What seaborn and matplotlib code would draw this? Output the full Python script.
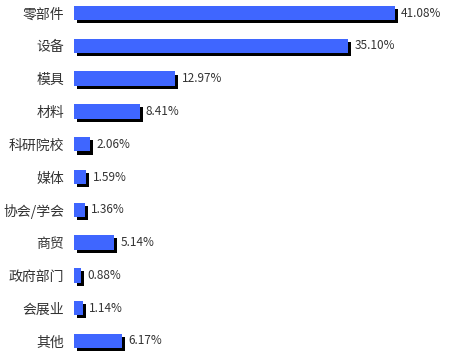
import matplotlib
matplotlib.use("Agg")
import matplotlib.pyplot as plt
import matplotlib.patheffects as pe
import seaborn as sns
import pandas as pd

categories = ["零部件", "设备", "模具", "材料", "科研院校", "媒体", "协会/学会", "商贸", "政府部门", "会展业", "其他"]
values = [41.08, 35.10, 12.97, 8.41, 2.06, 1.59, 1.36, 5.14, 0.88, 1.14, 6.17]
labels = ["41.08%", "35.10%", "12.97%", "8.41%", "2.06%", "1.59%", "1.36%", "5.14%", "0.88%", "1.14%", "6.17%"]

sns.set_style("white")
plt.rcParams['font.family'] = ['Noto Sans CJK SC', 'DejaVu Sans']

df = pd.DataFrame({"cat": categories, "val": values})

fig = plt.figure(figsize=(4.49, 3.59), dpi=100)
ax = fig.add_axes([74/449, 0, 375/449, 1])
sns.barplot(data=df, x="val", y="cat", orient="h", color="#3F66FF", saturation=1,
            width=0.44, ax=ax, edgecolor="none")
for p in ax.patches:
    p.set_path_effects([pe.SimplePatchShadow(offset=(2.2, -2.2), shadow_rgbFace="black", alpha=1), pe.Normal()])
for i, (v, l) in enumerate(zip(values, labels)):
    ax.text(v + 0.8, i, l, va="center", ha="left", fontsize=8.5, color="#333333")
ax.set_xlim(0, 48)
ax.set_ylim(10.55, -0.4)
ax.set_xlabel("")
ax.set_ylabel("")
ax.set_xticks([])
ax.tick_params(axis="y", length=0, labelsize=10, pad=7, labelcolor="#333333")
for s in ax.spines.values():
    s.set_visible(False)
fig.savefig("out.png", dpi=100)
